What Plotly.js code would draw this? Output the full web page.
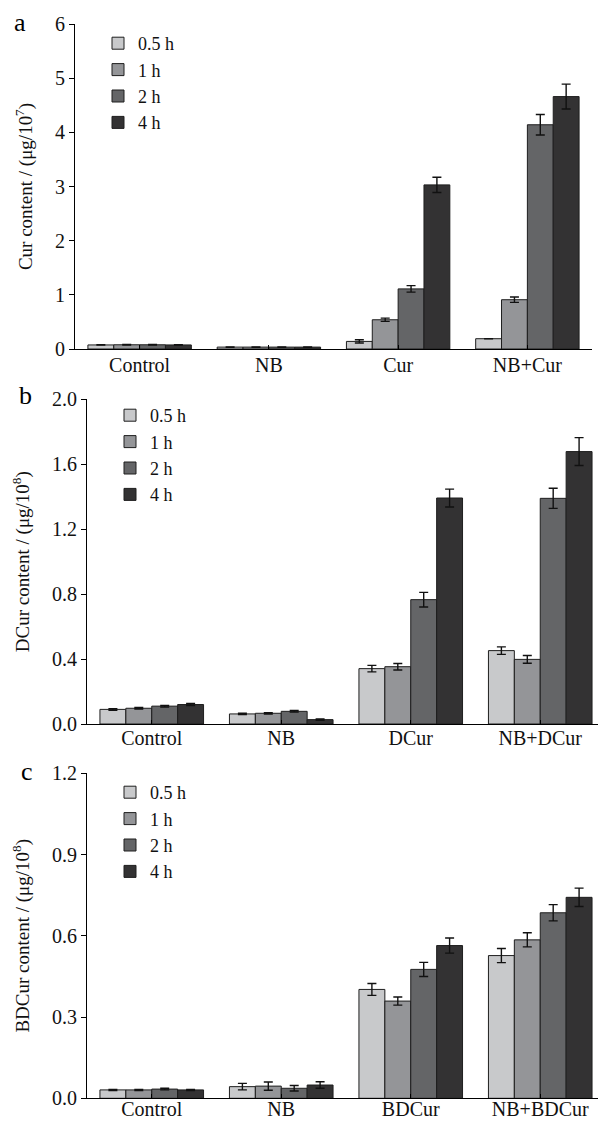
<!DOCTYPE html>
<html>
<head>
<meta charset="utf-8">
<script src="https://cdn.plot.ly/plotly-3.0.1.min.js"></script>
<style>html,body{margin:0;padding:0;background:#fff;}#chart{width:598px;height:1122px;}</style>
</head>
<body>
<div id="chart"></div>
<script>
// ---- data ----
var seriesNames = ['0.5 h', '1 h', '2 h', '4 h'];
var catsA = ['Control', 'NB', 'Cur', 'NB+Cur'];
var catsB = ['Control', 'NB', 'DCur', 'NB+DCur'];
var catsC = ['Control', 'NB', 'BDCur', 'NB+BDCur'];

var a05 = [0.075, 0.035, 0.14, 0.19];
var a1  = [0.078, 0.035, 0.54, 0.91];
var a2  = [0.078, 0.035, 1.11, 4.14];
var a4  = [0.075, 0.035, 3.03, 4.66];
var a05Err = [0.004, 0.002, 0.03, 0];
var a1Err  = [0.004, 0.002, 0.03, 0.05];
var a2Err  = [0.004, 0.002, 0.06, 0.19];
var a4Err  = [0.004, 0.002, 0.14, 0.23];

var b05 = [0.090, 0.062, 0.341, 0.452];
var b1  = [0.097, 0.066, 0.353, 0.398];
var b2  = [0.110, 0.078, 0.766, 1.390];
var b4  = [0.120, 0.027, 1.392, 1.678];
var b05Err = [0.005, 0.004, 0.020, 0.023];
var b1Err  = [0.005, 0.004, 0.020, 0.024];
var b2Err  = [0.005, 0.005, 0.045, 0.062];
var b4Err  = [0.006, 0.004, 0.055, 0.086];

var c05 = [0.031, 0.043, 0.402, 0.527];
var c1  = [0.031, 0.045, 0.359, 0.585];
var c2  = [0.034, 0.037, 0.476, 0.685];
var c4  = [0.031, 0.049, 0.564, 0.742];
var c05Err = [0.002, 0.012, 0.022, 0.026];
var c1Err  = [0.002, 0.015, 0.015, 0.026];
var c2Err  = [0.003, 0.010, 0.026, 0.030];
var c4Err  = [0.002, 0.012, 0.028, 0.034];

var yTitles = ['Cur content / (μg/10<sup>7</sup>)', 'DCur content / (μg/10<sup>8</sup>)', 'BDCur content / (μg/10<sup>8</sup>)'];
var panelLetters = ['a', 'b', 'c'];

// ---- style ----
var colors = ['#c8c9cb', '#949598', '#646567', '#333233'];
var FONT = 'Liberation Serif, Times New Roman, serif';
var W = 598, H = 1122;

var panels = [
  {cats: catsA, vals: [a05, a1, a2, a4], errs: [a05Err, a1Err, a2Err, a4Err], xa: 'x', ya: 'y', lg: 'legend'},
  {cats: catsB, vals: [b05, b1, b2, b4], errs: [b05Err, b1Err, b2Err, b4Err], xa: 'x2', ya: 'y2', lg: 'legend2'},
  {cats: catsC, vals: [c05, c1, c2, c4], errs: [c05Err, c1Err, c2Err, c4Err], xa: 'x3', ya: 'y3', lg: 'legend3'}
];

var data = [];
panels.forEach(function (p, pi) {
  for (var s = 0; s < 4; s++) {
    data.push({
      type: 'bar',
      x: p.cats,
      y: p.vals[s],
      name: seriesNames[s],
      xaxis: p.xa, yaxis: p.ya,
      legend: p.lg,
      marker: {color: colors[s], line: {color: '#1e1e1e', width: 1}},
      error_y: {type: 'data', array: p.errs[s], visible: true, color: '#111', thickness: 1.4, width: 4.5},
      hoverinfo: 'x+y'
    });
  }
});

function px2x(px) { return px / W; }
function px2y(py) { return 1 - py / H; }

var yAxisBase = {
  showline: true, linecolor: '#000', linewidth: 1, mirror: false,
  ticks: 'outside', ticklen: 5, tickwidth: 1, tickcolor: '#000',
  showgrid: false, zeroline: false,
  tickfont: {family: FONT, size: 20, color: '#111'},
  title: {font: {family: FONT, size: 19, color: '#111'}, standoff: 17}
};
var xAxisBase = {
  showline: true, linecolor: '#000', linewidth: 1,
  ticks: 'inside', ticklen: 4, tickwidth: 1, tickcolor: '#000',
  showgrid: false, zeroline: false, type: 'category',
  tickfont: {family: FONT, size: 20, color: '#111'}
};

function merge(a, b) { return Object.assign({}, JSON.parse(JSON.stringify(a)), b); }

var legendBase = {
  font: {family: FONT, size: 18, color: '#111'},
  bgcolor: 'rgba(0,0,0,0)', borderwidth: 0,
  xanchor: 'left', yanchor: 'top',
  traceorder: 'normal', tracegroupgap: 0,
  itemwidth: 30, itemclick: false
};

var layout = {
  width: W, height: H,
  margin: {l: 0, r: 0, t: 0, b: 0},
  paper_bgcolor: '#fff', plot_bgcolor: '#fff',
  showlegend: true,
  barmode: 'group', bargap: 0.2, bargroupgap: 0,
  font: {family: FONT, color: '#111'},
  xaxis: merge(xAxisBase, {domain: [px2x(75), px2x(592)], range: [-0.5, 3.5], anchor: 'y', ticklabelstandoff: -2}),
  yaxis: merge(yAxisBase, {domain: [px2y(349), px2y(24)], range: [0, 6], dtick: 1, anchor: 'x'}),
  xaxis2: merge(xAxisBase, {domain: [px2x(87), 1], range: [-0.5, 3.446], anchor: 'y2', ticklabelstandoff: -4}),
  yaxis2: merge(yAxisBase, {domain: [px2y(724), px2y(399.3)], range: [0, 2], dtick: 0.4, tickformat: '.1f', anchor: 'x2'}),
  xaxis3: merge(xAxisBase, {domain: [px2x(87), 1], range: [-0.5, 3.446], anchor: 'y3', ticklabelstandoff: -7}),
  yaxis3: merge(yAxisBase, {domain: [px2y(1098.3), px2y(773.3)], range: [0, 1.2], dtick: 0.3, tickformat: '.1f', anchor: 'x3'}),
  legend: merge(legendBase, {x: px2x(98), y: px2y(25)}),
  legend2: merge(legendBase, {x: px2x(110), y: px2y(397)}),
  legend3: merge(legendBase, {x: px2x(110), y: px2y(774)}),
  annotations: []
};
layout.yaxis.title.text = yTitles[0];
layout.yaxis2.title.text = yTitles[1];
layout.yaxis3.title.text = yTitles[2];

var letterPos = [[20, 22], [25, 395], [27, 771]];
panelLetters.forEach(function (l, i) {
  layout.annotations.push({
    text: l, xref: 'paper', yref: 'paper',
    x: px2x(letterPos[i][0]), y: px2y(letterPos[i][1]),
    xanchor: 'center', yanchor: 'middle', showarrow: false,
    font: {family: FONT, size: 26, color: '#000'}
  });
});

Plotly.newPlot('chart', data, layout, {staticPlot: false, displayModeBar: false});
</script>
</body>
</html>
